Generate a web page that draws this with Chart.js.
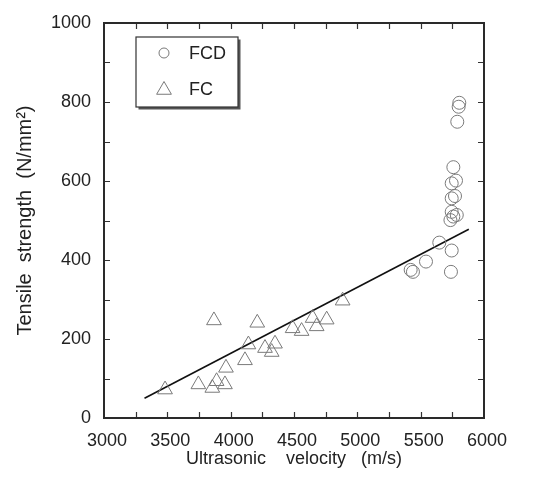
<!DOCTYPE html>
<html>
<head>
<meta charset="utf-8">
<script src="https://cdn.jsdelivr.net/npm/chart.js@4/dist/chart.umd.min.js"></script>
<style>
html,body{margin:0;padding:0;background:#fff;}
#wrap{width:535px;height:492px;position:relative;}
</style>
</head>
<body>
<div id="wrap"><canvas id="c" width="535" height="492"></canvas></div>
<script>
// ---- data ----
const fcdVelocity = [5805,5800,5789,5758,5779,5745,5771,5745,5745,5758,5735,5785,5647,5745,5542,5421,5439,5739];
const fcdStrength = [798,788,750,635,601,594,562,556,522,510,501,514,444,424,396,375,370,370];
const fcVelocity  = [3482,3745,3855,3889,3955,3963,3868,4113,4140,4210,4271,4324,4350,4489,4560,4647,4679,4758,4884];
const fcStrength  = [72,85,76,93,85,127,247,146,186,241,177,167,188,227,220,253,232,249,297];
const fitVelocity = [3320,5880];
const fitStrength = [50,478];
const xTickLabels = [3000,3500,4000,4500,5000,5500,6000];
const yTickLabels = [0,200,400,600,800,1000];
const seriesNames = ['FCD','FC'];

const FONT = "'Liberation Sans', Arial, Helvetica, sans-serif";
const TXT = '#222';
const MARK = '#7a7a7a';

const toPts = (xs, ys) => xs.map((x,i)=>({x:x, y:ys[i]}));

const framePlugin = {
  id:'frame',
  afterDatasetsDraw(chart){
    const {ctx, chartArea:a, scales} = chart;
    ctx.save();
    ctx.strokeStyle = '#333';
    ctx.lineWidth = 1.2;
    const L = 6;
    scales.x.ticks.forEach(t=>{
      if (t.value<=scales.x.min || t.value>=scales.x.max) return;
      const p = Math.round(scales.x.getPixelForValue(t.value))+0.5;
      ctx.beginPath();
      ctx.moveTo(p,a.bottom); ctx.lineTo(p,a.bottom-L);
      ctx.moveTo(p,a.top); ctx.lineTo(p,a.top+L);
      ctx.stroke();
    });
    scales.y.ticks.forEach(t=>{
      if (t.value<=scales.y.min || t.value>=scales.y.max) return;
      const p = Math.round(scales.y.getPixelForValue(t.value))+0.5;
      ctx.beginPath();
      ctx.moveTo(a.left,p); ctx.lineTo(a.left+L,p);
      ctx.moveTo(a.right,p); ctx.lineTo(a.right-L,p);
      ctx.stroke();
    });
    ctx.lineWidth = 2;
    ctx.strokeStyle = '#2a2a2a';
    ctx.strokeRect(a.left, a.top, a.right-a.left, a.bottom-a.top);

    // legend box inside plot
    const bx = a.left+32, by = a.top+14, bw = 102, bh = 70;
    ctx.fillStyle = '#555';
    ctx.fillRect(bx+2.5, by+2.5, bw, bh);
    ctx.fillStyle = '#fff';
    ctx.fillRect(bx, by, bw, bh);
    ctx.lineWidth = 1.2;
    ctx.strokeStyle = '#333';
    ctx.strokeRect(bx, by, bw, bh);
    const ds = chart.data.datasets;
    const rows = [by+16, by+52];
    [0,1].forEach(i=>{
      const d = ds[i];
      ctx.strokeStyle = MARK; ctx.lineWidth = 1;
      ctx.fillStyle = 'rgba(0,0,0,0)';
      Chart.helpers.drawPoint(ctx, {pointStyle:d.pointStyle, radius: i===0?5:8.5, borderWidth:1, rotation:0}, bx+28, rows[i] + (i===1?1:0));
      ctx.fillStyle = TXT;
      ctx.font = "18px " + FONT;
      ctx.textBaseline = 'middle';
      ctx.textAlign = 'left';
      ctx.fillText(d.label, bx+53, rows[i]+1);
    });
    ctx.restore();
  }
};

new Chart(document.getElementById('c'), {
  data:{
    datasets:[
      {type:'scatter', label:seriesNames[0], data:toPts(fcdVelocity,fcdStrength), pointStyle:'circle', pointRadius:6.5,
       borderColor:MARK, backgroundColor:'rgba(0,0,0,0)', pointBorderWidth:1, pointHoverRadius:6.5},
      {type:'scatter', label:seriesNames[1], data:toPts(fcVelocity,fcStrength), pointStyle:'triangle', pointRadius:8.5,
       borderColor:MARK, backgroundColor:'rgba(0,0,0,0)', pointBorderWidth:1, pointHoverRadius:8.5},
      {type:'line', label:'fit', data:toPts(fitVelocity,fitStrength), borderColor:'#111', borderWidth:1.6,
       pointRadius:0, fill:false, tension:0}
    ]
  },
  options:{
    responsive:false,
    animation:false,
    events:[],
    layout:{padding:{left:0,right:51,top:23,bottom:0}, autoPadding:false},
    plugins:{legend:{display:false}, tooltip:{enabled:false}},
    scales:{
      x:{type:'linear', min:3000, max:6000,
         afterFit(s){ s.height = 74; },
         grid:{display:false}, border:{display:false},
         ticks:{stepSize:250, autoSkip:false, maxRotation:0, padding:4, labelOffset:3, color:TXT,
                font:{family:FONT,size:18},
                callback:(v)=> xTickLabels.includes(v) ? String(v) : ''},
         title:{display:true, text:'Ultrasonic    velocity   (m/s)', color:TXT, font:{family:FONT,size:18}, padding:{top:0,bottom:22}}
      },
      y:{type:'linear', min:0, max:1000,
         afterFit(s){ s.width = 104; },
         grid:{display:false}, border:{display:false},
         ticks:{stepSize:100, autoSkip:false, padding:5, color:TXT,
                font:{family:FONT,size:18},
                callback:(v)=> yTickLabels.includes(v) ? String(v) : ''},
         title:{display:true, text:'Tensile  strength  (N/mm²)', color:TXT, font:{family:FONT,size:20}, padding:{top:13,bottom:0}}
      }
    }
  },
  plugins:[framePlugin]
});
</script>
</body>
</html>
